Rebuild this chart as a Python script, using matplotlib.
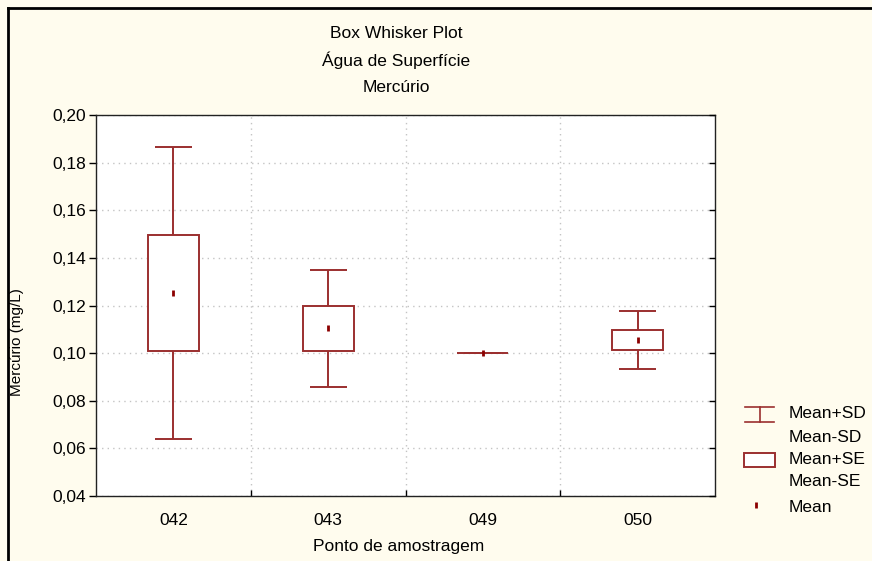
import matplotlib
matplotlib.use("Agg")
import matplotlib.pyplot as plt
from matplotlib.lines import Line2D
from matplotlib.patches import Rectangle
from matplotlib.ticker import FuncFormatter, FixedLocator

plt.rcParams['font.family'] = ['Liberation Sans', 'DejaVu Sans']

# dados
pontos = ['042', '043', '049', '050']
media = [0.1253, 0.1104, 0.1000, 0.1055]
erro_padrao = [0.0243, 0.0093, 0.0, 0.0042]
desvio_padrao = [0.0613, 0.0245, 0.0, 0.0123]

titulo = ['Box Whisker Plot', 'Água de Superfície', 'Mercúrio']
y_label = 'Mercúrio (mg/L)'
x_label = 'Ponto de amostragem'
y_ticks = [0.04, 0.06, 0.08, 0.10, 0.12, 0.14, 0.16, 0.18, 0.20]
legenda = ['Mean+SD', 'Mean-SD', 'Mean+SE', 'Mean-SE', 'Mean']

cor = '#9B2F2F'
cor_media = '#8B0000'
fundo = '#FFFCEE'

fig = plt.figure(figsize=(8.72, 5.61), dpi=100)
fig.patch.set_facecolor(fundo)
ax = fig.add_axes([96 / 872, 1 - 496 / 561, (715 - 96) / 872, (496 - 115) / 561])
ax.set_facecolor('white')

x = list(range(len(pontos)))
larg_caixa = 0.33
larg_barra = 0.24

for i in x:
    m, se, sd = media[i], erro_padrao[i], desvio_padrao[i]
    # bigodes (média ± DP)
    ax.vlines(i, m - sd, m - se, color=cor, lw=1.4, zorder=3)
    ax.vlines(i, m + se, m + sd, color=cor, lw=1.4, zorder=3)
    ax.hlines([m - sd, m + sd], i - larg_barra / 2, i + larg_barra / 2, color=cor, lw=1.4, zorder=3)
    # caixa (média ± EP)
    ax.add_patch(Rectangle((i - larg_caixa / 2, m - se), larg_caixa, 2 * se,
                           facecolor='white', edgecolor=cor, lw=1.4, zorder=3))
    # média
    ax.plot(i, m, marker='|', color=cor_media, ms=5, mew=2.0, ls='none', zorder=4)

ax.set_xlim(-0.5, len(pontos) - 0.5)
ax.set_ylim(0.04, 0.20)
ax.set_yticks(y_ticks)
ax.yaxis.set_major_formatter(FuncFormatter(lambda v, p: f'{v:.2f}'.replace('.', ',')))
ax.set_xticks(x)
ax.set_xticklabels(pontos)
ax.xaxis.set_minor_locator(FixedLocator([i + 0.5 for i in x[:-1]]))

ax.tick_params(axis='x', which='major', length=0, pad=12, labelsize=12.5)
ax.tick_params(axis='x', which='minor', direction='in', length=4, width=1)
ax.tick_params(axis='y', which='major', direction='out', length=5, width=1, labelsize=12.5, pad=2)

ax.grid(True, axis='y', which='major', ls=(0, (1, 3)), color='#C4C4C4', lw=1.0)
ax.grid(True, axis='x', which='minor', ls=(0, (1, 3)), color='#C4C4C4', lw=1.0)
ax.set_axisbelow(True)

for s in ax.spines.values():
    s.set_color('#222222')
    s.set_linewidth(1.0)

# marcas internas no eixo direito
ax2 = ax.twinx()
ax2.set_ylim(ax.get_ylim())
ax2.set_yticks(y_ticks)
ax2.tick_params(axis='y', direction='in', length=4, width=1, labelright=False)
for s in ax2.spines.values():
    s.set_visible(False)

# títulos e rótulos
for k, t in enumerate(titulo):
    fig.text(396 / 872, 1 - (33 + 27 * k) / 561, t, ha='center', va='center', fontsize=12.5)
fig.text(17 / 872, 1 - 342 / 561, y_label, rotation=90, ha='center', va='center', fontsize=11)
fig.text(399 / 872, 1 - 547 / 561, x_label, ha='center', va='center', fontsize=12.5)

# legenda manual
W, H = 872, 561
fig.add_artist(Line2D([745 / W, 774 / W], [1 - 407 / H] * 2, color=cor, lw=1.2))
fig.add_artist(Line2D([745 / W, 774 / W], [1 - 422 / H] * 2, color=cor, lw=1.2))
fig.add_artist(Line2D([759.5 / W] * 2, [1 - 407 / H, 1 - 422 / H], color=cor, lw=1.2))
fig.add_artist(Rectangle((744 / W, 1 - 467 / H), 31 / W, 14 / H, facecolor='white',
                         edgecolor=cor, lw=1.4, transform=fig.transFigure))
fig.add_artist(Line2D([756 / W], [1 - 505 / H], marker='|', color=cor_media, ms=5, mew=2.0,
                      ls='none'))
for t, yy in zip(legenda, [414, 437, 460, 482, 507]):
    fig.text(789 / W, 1 - yy / H, t, ha='left', va='center', fontsize=12.5)

# moldura da figura (topo e esquerda)
fig.add_artist(Line2D([8 / W, 1], [1 - 8 / H] * 2, color='black', lw=2))
fig.add_artist(Line2D([8 / W] * 2, [0, 1 - 8 / H], color='black', lw=2))

fig.savefig('out.png', dpi=100, facecolor=fig.get_facecolor())
